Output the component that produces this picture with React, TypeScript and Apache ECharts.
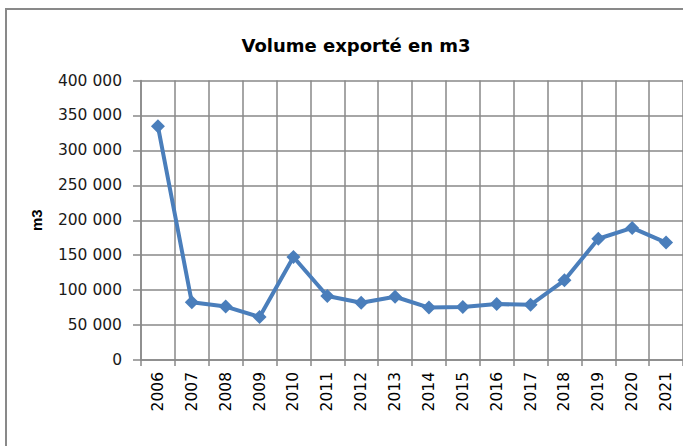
import React, { useEffect, useRef } from "react";
import * as echarts from "echarts";

const categories = ["2006", "2007", "2008", "2009", "2010", "2011", "2012", "2013", "2014", "2015", "2016", "2017", "2018", "2019", "2020", "2021"];
const volumes = [334500, 82500, 76500, 61500, 147500, 91500, 82000, 90500, 75000, 76000, 80000, 79000, 114000, 173500, 189000, 168000];
const yTicks = { min: 0, max: 400000, interval: 50000 };
const titleText = "Volume exporté en m3";
const yAxisName = "m3";

const gray = "#898989";

function fmt(v: number): string {
  return String(v).replace(/\B(?=(\d{3})+(?!\d))/g, " ");
}

export default function App() {
  const ref = useRef<HTMLDivElement>(null);
  useEffect(() => {
    if (!ref.current) return;
    const chart = echarts.init(ref.current, null, { renderer: "svg" });
    chart.setOption({
      animation: false,
      backgroundColor: "#ffffff",
      title: {
        text: titleText,
        left: 351,
        textAlign: "center",
        top: 31,
        textStyle: { fontFamily: "DejaVu Sans", fontWeight: "bold", fontSize: 18, color: "#000" },
      },
      graphic: [
        {
          type: "rect",
          shape: { x: 6, y: 9, width: 720, height: 480 },
          style: { fill: "none", stroke: gray, lineWidth: 2 },
          silent: true,
          z: -1,
        },
      ],
      grid: { left: 141, right: 0, top: 80.5, bottom: 86, containLabel: false },
      xAxis: {
        type: "category",
        data: categories,
        boundaryGap: true,
        axisLine: { show: true, lineStyle: { color: gray, width: 1.5 } },
        axisTick: { show: true, length: 6, lineStyle: { color: gray, width: 1.5 } },
        splitLine: { show: true, lineStyle: { color: gray, width: 1.5 } },
        axisLabel: { rotate: 90, margin: 12, fontFamily: "DejaVu Sans", fontSize: 15.5, color: "#000", interval: 0 },
      },
      yAxis: {
        type: "value",
        min: yTicks.min,
        max: yTicks.max,
        interval: yTicks.interval,
        name: yAxisName,
        nameLocation: "middle",
        nameGap: 97,
        nameRotate: 90,
        nameTextStyle: { fontFamily: "Liberation Sans", fontWeight: "bold", fontSize: 15, color: "#000" },
        axisLine: { show: true, lineStyle: { color: gray, width: 1.5 } },
        axisTick: { show: true, length: 8, lineStyle: { color: gray, width: 1.5 } },
        splitLine: { show: true, lineStyle: { color: gray, width: 1.5 } },
        axisLabel: { margin: 19, fontFamily: "DejaVu Sans", fontSize: 15.5, color: "#1a1a1a", formatter: (v: number) => fmt(v) },
      },
      series: [
        {
          type: "line",
          data: volumes,
          symbol: "diamond",
          symbolSize: 14,
          lineStyle: { color: "#4a7ebb", width: 4 },
          itemStyle: { color: "#4a7ebb" },
        },
      ],
    });
    return () => chart.dispose();
  }, []);
  return <div ref={ref} style={{ position: "fixed", left: 0, top: 0, width: 683, height: 446 }} />;
}
